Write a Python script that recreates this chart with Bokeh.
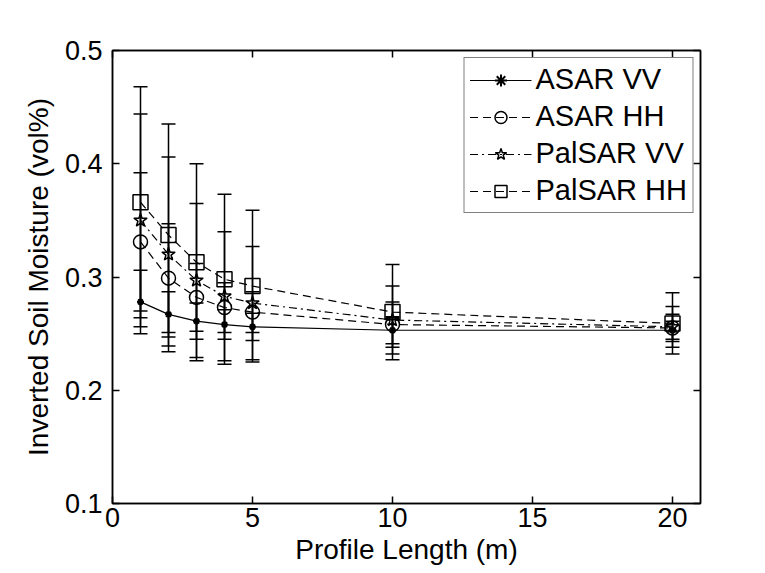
from bokeh.plotting import figure
from bokeh.models import (Range1d, LinearAxis, FixedTicker, Whisker, TeeHead,
                          ColumnDataSource, Legend, LegendItem, CustomJSTickFormatter)
from bokeh.embed import file_html
from bokeh.resources import INLINE

# ---- data ----
profile_length = [1, 2, 3, 4, 5, 10, 20]
asar_vv = [0.278, 0.267, 0.261, 0.258, 0.256, 0.253, 0.253]
asar_vv_err = [0.028, 0.020, 0.016, 0.013, 0.012, 0.012, 0.008]
asar_hh = [0.331, 0.299, 0.282, 0.273, 0.269, 0.258, 0.255]
asar_hh_err = [0.061, 0.048, 0.030, 0.022, 0.018, 0.020, 0.012]
palsar_vv = [0.350, 0.320, 0.297, 0.283, 0.277, 0.262, 0.256]
palsar_vv_err = [0.094, 0.086, 0.068, 0.057, 0.050, 0.030, 0.018]
palsar_hh = [0.366, 0.337, 0.313, 0.298, 0.292, 0.269, 0.259]
palsar_hh_err = [0.102, 0.098, 0.087, 0.075, 0.067, 0.042, 0.027]

series_names = ["ASAR VV", "ASAR HH", "PalSAR VV", "PalSAR HH"]
x_ticks = [0, 5, 10, 15, 20]
y_ticks = [0.1, 0.2, 0.3, 0.4, 0.5]

FONT = "Liberation Sans"

p = figure(width=765, height=573, output_backend="svg", toolbar_location=None,
           x_range=Range1d(0, 21), y_range=Range1d(0.1, 0.5),
           min_border_left=112, min_border_right=65, min_border_top=50,
           min_border_bottom=70)
p.xgrid.visible = False
p.ygrid.visible = False
p.outline_line_color = "black"
p.outline_line_width = 1.5
p.background_fill_color = "white"
p.border_fill_color = "white"

for ax in p.xaxis:
    ax.ticker = FixedTicker(ticks=x_ticks)
for ax in p.yaxis:
    ax.ticker = FixedTicker(ticks=y_ticks)

def style_axis(ax, labels=True):
    ax.major_tick_in = 7
    ax.major_tick_out = 0
    ax.minor_tick_in = 0
    ax.minor_tick_out = 0
    ax.axis_line_color = "black"
    ax.axis_line_width = 1.5
    ax.major_tick_line_width = 1.5
    ax.major_label_text_font = FONT
    ax.major_label_text_font_size = "27px"
    ax.major_label_text_color = "black"
    ax.axis_label_text_font = FONT
    ax.axis_label_text_font_size = "28px"
    ax.axis_label_text_font_style = "normal"
    ax.axis_label_text_color = "black"
    if not labels:
        ax.formatter = CustomJSTickFormatter(code="return ''")

p.xaxis.axis_label = "Profile Length (m)"
p.yaxis.axis_label = "Inverted Soil Moisture (vol%)"
style_axis(p.xaxis[0])
style_axis(p.yaxis[0])
p.xaxis[0].major_label_standoff = 4
p.yaxis[0].major_label_standoff = 10
p.xaxis[0].axis_label_standoff = 4
p.yaxis[0].axis_label_standoff = 8

top_ax = LinearAxis(ticker=FixedTicker(ticks=x_ticks))
right_ax = LinearAxis(ticker=FixedTicker(ticks=y_ticks))
style_axis(top_ax, labels=False)
style_axis(right_ax, labels=False)
p.add_layout(top_ax, "above")
p.add_layout(right_ax, "right")

all_vals = [asar_vv, asar_hh, palsar_vv, palsar_hh]
all_errs = [asar_vv_err, asar_hh_err, palsar_vv_err, palsar_hh_err]
dashes = ["solid", "8 5", "8 4 2 4", "8 5"]
markers = ["asterisk", "circle", "star", "square"]
msizes = [7, 14, 14, 15]

items = []
for name, vals, errs, dash, mk, ms in zip(series_names, all_vals, all_errs, dashes, markers, msizes):
    src = ColumnDataSource(dict(x=profile_length, y=vals,
                                lo=[v - e for v, e in zip(vals, errs)],
                                hi=[v + e for v, e in zip(vals, errs)]))
    w = Whisker(base="x", lower="lo", upper="hi", source=src, dimension="height",
                line_color="black", line_width=1.5,
                upper_head=TeeHead(size=14, line_color="black", line_width=1.5),
                lower_head=TeeHead(size=14, line_color="black", line_width=1.5))
    p.add_layout(w)
    r_line = p.line("x", "y", source=src, line_color="black", line_width=1.2, line_dash=dash)
    if mk == "asterisk":
        r_mk = p.scatter("x", "y", source=src, marker=mk, size=ms, line_color="black", line_width=2)
    else:
        r_mk = p.scatter("x", "y", source=src, marker=mk, size=ms, line_color="black",
                         fill_color=None, line_width=1.5)
    items.append(LegendItem(label=name, renderers=[r_line, r_mk]))

legend = Legend(items=items, location="top_right")
legend.label_text_font = FONT
legend.label_text_font_size = "29px"
legend.label_text_color = "black"
legend.border_line_color = "black"
legend.border_line_width = 1.5
legend.glyph_width = 62
legend.glyph_height = 30
legend.spacing = 4
legend.padding = 5
legend.margin = 7
legend.label_standoff = 4
p.add_layout(legend)

open("out.html", "w").write(file_html(p, INLINE))
